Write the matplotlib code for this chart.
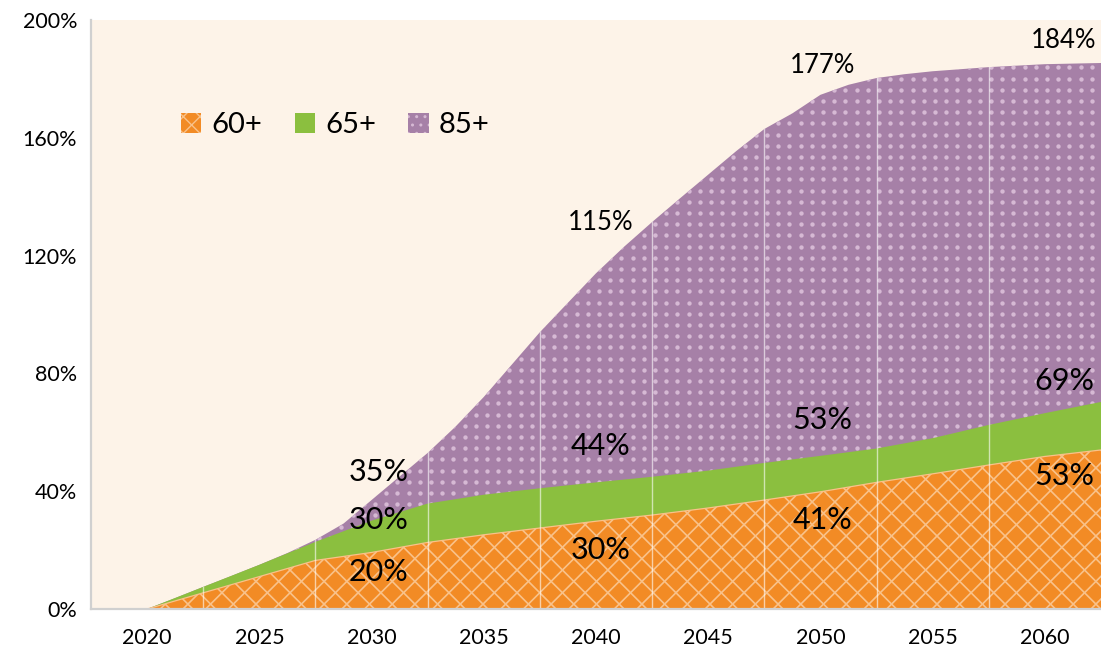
import numpy as np
import matplotlib
matplotlib.use("Agg")
import matplotlib.pyplot as plt
from matplotlib.patches import Patch
from matplotlib.collections import LineCollection
from matplotlib.transforms import IdentityTransform

# ---------------- data ----------------
years = [2020, 2022.5, 2025, 2027.5, 2030, 2032.5, 2035, 2037.5, 2040, 2042.5,
         2045, 2047.5, 2050, 2052.5, 2055, 2057.5, 2060, 2062.5]
s60 = [0, 5.5, 11.0, 16.5, 19.2, 22.6, 25.2, 27.5, 29.8, 31.9,
       34.3, 37.0, 39.8, 43.0, 45.9, 48.9, 51.8, 54.0]
s65 = [0, 7.5, 15.0, 22.8, 30.0, 35.8, 38.8, 41.0, 43.0, 44.9,
       47.0, 49.6, 52.0, 54.5, 58.0, 62.5, 66.5, 70.3]
years85 = [2020, 2021.25, 2022.5, 2023.75, 2025, 2026.25, 2027.5, 2028.75,
           2030, 2031.25, 2032.5, 2033.75, 2035, 2036.25, 2037.5, 2038.75,
           2040, 2041.25, 2042.5, 2043.75, 2045, 2046.25, 2047.5, 2048.75,
           2050, 2051.25, 2052.5, 2053.75, 2055, 2057.5, 2060, 2062.5]
s85 = [0, 3.7, 7.5, 11.2, 15.0, 19.0, 23.5, 29.0,
       37.0, 45.0, 53.0, 62.0, 72.0, 83.0, 94.0, 104.0,
       114.0, 123.0, 131.4, 139.5, 147.5, 155.5, 163.0, 168.3,
       174.6, 178.0, 180.3, 181.6, 182.6, 184.0, 185.0, 185.4]
series_names = ["60+", "65+", "85+"]
xticks = [2020, 2025, 2030, 2035, 2040, 2045, 2050, 2055, 2060]
yticks = [0, 40, 80, 120, 160, 200]
band_edges = [2022.5, 2027.5, 2032.5, 2037.5, 2042.5, 2047.5, 2052.5, 2057.5]
# annotated values
lbl60 = ["20%", "30%", "41%", "53%"]
lbl65 = ["30%", "44%", "53%", "69%"]
lbl85 = ["35%", "115%", "177%", "184%"]

# ---------------- style ----------------
C_BG = "#FDF3E8"
C_OR = "#F28B25"
C_ORH = "#F9C28A"
C_GR = "#8BBF3F"
C_PU = "#A680A7"
C_DOT = "#D6B9D4"
FONT = ["Lato", "DejaVu Sans"]
plt.rcParams["font.family"] = FONT

W, H = 1101, 652
fig = plt.figure(figsize=(W / 100, H / 100), dpi=100)
fig.patch.set_facecolor("white")
ax = fig.add_axes([91 / W, 43 / H, 1010 / W, 589 / H])
ax.set_facecolor(C_BG)
ax.set_xlim(2017.5, 2062.5)
ax.set_ylim(0, 200)

# areas (overlapping)
p85 = ax.fill_between(years85, 0, s85, facecolor=C_PU, edgecolor="none", zorder=2)
p65 = ax.fill_between(years, 0, s65, facecolor=C_GR, edgecolor="none", zorder=4)
p60 = ax.fill_between(years, 0, s60, facecolor=C_OR, edgecolor="none", zorder=5)
ax.plot(years, s60, color=C_ORH, lw=0.9, zorder=6)

# pixel-space pattern helpers
x0, y0 = ax.transAxes.transform((0, 0))
x1, y1 = ax.transAxes.transform((1, 1))

# dots for 85+
sp = 11.2
gx = np.arange(x0 + 4, x1, sp)
gy = np.arange(y0 + 4, y1, sp)
GX, GY = np.meshgrid(gx, gy)
dots = ax.scatter(GX.ravel(), GY.ravel(), s=10, color=C_DOT, linewidths=0,
                  transform=IdentityTransform(), zorder=3)
dots.set_clip_path(p85.get_paths()[0], ax.transData)

# cross hatch for 60+
hs = 22.7
segs = []
span = (x1 - x0) + (y1 - y0)
for c in np.arange(x0 - (y1 - y0), x1 + hs, hs):
    segs.append([(c, y0), (c + span, y0 + span)])
    segs.append([(c + (y1 - y0) + 11, y0), (c + (y1 - y0) + 11 - span, y0 + span)])
lc = LineCollection(segs, colors=C_ORH, linewidths=1.2,
                    transform=IdentityTransform(), zorder=6)
ax.add_collection(lc)
lc.set_clip_path(p60.get_paths()[0], ax.transData)

# white band separators drawn inside areas
for xe in band_edges:
    ln = ax.axvline(xe, color="white", lw=1.0, alpha=0.6, zorder=7)
    ln.set_clip_path(p85.get_paths()[0], ax.transData)

# axes styling
for s in ["top", "right"]:
    ax.spines[s].set_visible(False)
for s in ["left", "bottom"]:
    ax.spines[s].set_color("#D0D0D0")
    ax.spines[s].set_linewidth(1.6)
    ax.spines[s].set_zorder(8)
ax.set_xticks(xticks)
ax.set_xticklabels([str(v) for v in xticks])
ax.set_yticks(yticks)
ax.set_yticklabels([f"{v}%" for v in yticks])
ax.tick_params(axis="both", length=0, labelsize=15.5, colors="black")
ax.tick_params(axis="x", pad=14)
ax.tick_params(axis="y", pad=10)

# labels
lx = [2030.3, 2040.2, 2050.1, 2060.85]
y60 = [12.6, 20.1, 30.2, 45.0]
y65 = [30.3, 55.4, 64.3, 77.5]
y85 = [46.6, 131.3, 184.7, 192.9]
big = 22
for i in range(4):
    ax.text(lx[i], y60[i], lbl60[i], ha="center", va="center", fontsize=big, zorder=9)
    ax.text(lx[i], y65[i], lbl65[i], ha="center", va="center", fontsize=big, zorder=9)
    fs = big if i == 0 else 18.5
    ax.text(lx[i], y85[i], lbl85[i], ha="center", va="center", fontsize=fs, zorder=9)

# legend
handles = [Patch(facecolor=C_OR, edgecolor=C_ORH, hatch="xx", linewidth=0),
           Patch(facecolor=C_GR, edgecolor=C_GR, linewidth=0),
           Patch(facecolor=C_PU, edgecolor=C_DOT, hatch="..", linewidth=0)]
leg = ax.legend(handles, series_names, loc="center left", ncol=3, frameon=False,
                bbox_to_anchor=(90 / 1010, (609 - 125) / 589), fontsize=21,
                handlelength=0.7, handleheight=0.7, handletextpad=0.35,
                columnspacing=1.1, borderaxespad=0, borderpad=0)

fig.savefig("out.png", dpi=100)
